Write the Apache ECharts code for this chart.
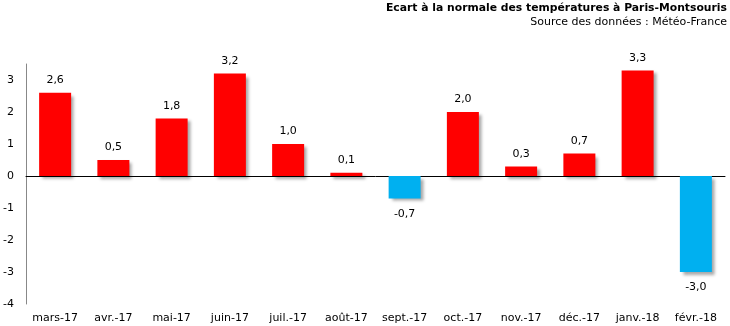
<!DOCTYPE html>
<html><head><meta charset="utf-8">
<script src="https://cdn.jsdelivr.net/npm/echarts@6/dist/echarts.min.js"></script>
<style>html,body{margin:0;padding:0;background:#fff}#c{width:730px;height:326px}</style>
</head><body><div id="c"></div>
<script>
const categories = ['mars-17','avr.-17','mai-17','juin-17','juil.-17','août-17','sept.-17','oct.-17','nov.-17','déc.-17','janv.-18','févr.-18'];
const values = [2.6, 0.5, 1.8, 3.2, 1.0, 0.1, -0.7, 2.0, 0.3, 0.7, 3.3, -3.0];
const yTicks = [-4, -3, -2, -1, 0, 1, 2, 3];
const titleText = 'Ecart à la normale des températures à Paris-Montsouris';
const subtitleText = 'Source des données : Météo-France';

const FONT = 'DejaVu Sans';
const chart = echarts.init(document.getElementById('c'), null, {renderer:'canvas'});
chart.setOption({
  animation: false,
  title: [{
    text: titleText, right: 3, top: 3, padding: 0,
    textStyle: {fontFamily: FONT, fontSize: 10.8, fontWeight: 'bold', color: '#000'}
  }, {
    text: subtitleText, right: 3, top: 17, padding: 0,
    textStyle: {fontFamily: FONT, fontSize: 11, fontWeight: 'normal', color: '#000'}
  }],
  grid: {left: 26, right: 5, top: 64, bottom: 22},
  xAxis: [{
    type: 'category', data: categories, position: 'bottom',
    axisLine: {show: false, onZero: false}, axisTick: {show: false},
    axisLabel: {fontFamily: FONT, fontSize: 11, color: '#000', margin: 9, interval: 0}
  }, {
    type: 'category', data: categories, position: 'bottom',
    axisLine: {show: true, onZero: true, lineStyle: {color: '#000', width: 1}}, axisTick: {show: false},
    axisLabel: {show: false}
  }],
  yAxis: {
    type: 'value', min: yTicks[0], max: 3.5, interval: 1,
    axisLine: {show: true, lineStyle: {color: '#888'}}, axisTick: {show: false},
    splitLine: {show: false},
    axisLabel: {fontFamily: FONT, fontSize: 11, color: '#000', margin: 12, showMaxLabel: false,
      formatter: v => yTicks.includes(v) ? String(v) : ''}
  },
  series: [{
    type: 'bar', barWidth: 32, xAxisIndex: 0,
    data: values.map(v => ({value: v, itemStyle: {color: v >= 0 ? '#FF0000' : '#00B0F0'},
      label: {position: v >= 0 ? 'top' : 'bottom', distance: v >= 0 ? 7 : 10}})),
    itemStyle: {shadowColor: 'rgba(0,0,0,0.35)', shadowBlur: 3, shadowOffsetX: 3, shadowOffsetY: 3},
    label: {show: true, fontFamily: FONT, fontSize: 11, color: '#000',
      formatter: p => p.value.toFixed(1).replace('.', ',')}
  }]
});
</script></body></html>
